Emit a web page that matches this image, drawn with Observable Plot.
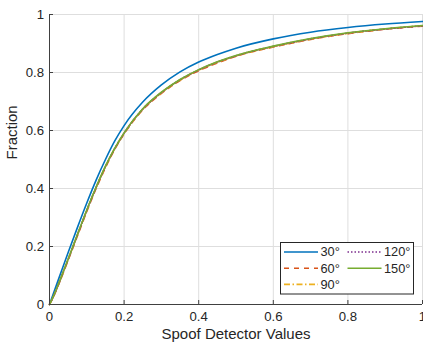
<!DOCTYPE html>
<html>
<head>
<meta charset="utf-8">
<script src="https://cdn.jsdelivr.net/npm/d3@7"></script>
<script src="https://cdn.jsdelivr.net/npm/@observablehq/plot@0.6"></script>
<style>
  html, body { margin: 0; padding: 0; background: #fff; }
  #wrap { position: relative; width: 423px; height: 346px; font-family: "Liberation Sans", Arial, Helvetica, sans-serif; }
  #legend { position: absolute; left: 280px; top: 242px; }
</style>
</head>
<body>
<div id="wrap"></div>
<script>
// ---- data ----
const xValues = [0, 0.01, 0.02, 0.035, 0.05, 0.075, 0.1, 0.125, 0.15, 0.175, 0.2, 0.25, 0.3, 0.35, 0.4, 0.45, 0.5, 0.6, 0.7, 0.8, 0.9, 1.0];
const deg30  = [0, 0.036, 0.072, 0.126, 0.179, 0.266, 0.350, 0.429, 0.500, 0.564, 0.617, 0.698, 0.757, 0.802, 0.836, 0.862, 0.884, 0.916, 0.939, 0.955, 0.967, 0.976];
const deg60  = [0, 0.025, 0.055, 0.103, 0.153, 0.237, 0.321, 0.400, 0.472, 0.535, 0.588, 0.671, 0.728, 0.772, 0.806, 0.833, 0.856, 0.888, 0.914, 0.934, 0.949, 0.960];
const deg90  = [0, 0.026, 0.056, 0.105, 0.155, 0.240, 0.324, 0.403, 0.475, 0.537, 0.590, 0.673, 0.730, 0.774, 0.808, 0.835, 0.857, 0.889, 0.915, 0.935, 0.950, 0.961];
const deg120 = [0, 0.026, 0.057, 0.106, 0.156, 0.241, 0.325, 0.404, 0.476, 0.538, 0.591, 0.674, 0.731, 0.775, 0.809, 0.836, 0.858, 0.890, 0.916, 0.936, 0.950, 0.961];
const deg150 = [0, 0.027, 0.058, 0.107, 0.157, 0.242, 0.326, 0.405, 0.477, 0.539, 0.592, 0.675, 0.732, 0.776, 0.810, 0.837, 0.859, 0.891, 0.917, 0.937, 0.951, 0.962];
const seriesNames = ["30°", "60°", "90°", "120°", "150°"];
const seriesValues = [deg30, deg60, deg90, deg120, deg150];
const seriesColors = ["#0072BD", "#D95319", "#EDB120", "#7E2F8E", "#77AC30"];
const seriesDash = [null, "5,5", "6,2.5,1.5,2.5", "1.5,2", null];
const xTicks = [0, 0.2, 0.4, 0.6, 0.8, 1];
const yTicks = [0, 0.2, 0.4, 0.6, 0.8, 1];
const xLabel = "Spoof Detector Values";
const yLabel = "Fraction";

// ---- layout ----
const W = 423, H = 346;
const mL = 49, mR = 1, mT = 14, mB = 42;
const plotW = W - mL - mR, plotH = H - mT - mB;
const axisColor = "#404040";
const textColor = "#262626";

const lineMarks = seriesNames.map((name, i) => {
  const rows = xValues.map((x, j) => ({x, y: seriesValues[i][j]}));
  return Plot.line(rows, {x: "x", y: "y", stroke: seriesColors[i], strokeWidth: 1.6,
    strokeDasharray: seriesDash[i] || undefined, curve: "monotone-x"});
});

const chart = Plot.plot({
  width: W, height: H,
  marginLeft: mL, marginRight: mR, marginTop: mT, marginBottom: mB,
  style: {fontFamily: '"Liberation Sans", Arial, Helvetica, sans-serif', fontSize: "13.2px", color: textColor, background: "#fff", overflow: "visible"},
  x: {domain: [0, 1]},
  y: {domain: [0, 1]},
  marks: [
    Plot.gridX(xTicks, {stroke: "#dedede", strokeOpacity: 1}),
    Plot.gridY(yTicks, {stroke: "#dedede", strokeOpacity: 1}),
    ...lineMarks,
    Plot.ruleX([0], {stroke: axisColor}),
    Plot.ruleY([0], {stroke: axisColor}),
    Plot.tickX(xTicks, {stroke: axisColor, insetTop: plotH - 4}),
    Plot.tickY(yTicks, {stroke: axisColor, insetRight: plotW - 4}),
    Plot.axisX(xTicks, {tickSize: 0, tickPadding: 7, tickFormat: d => String(d), label: null, fill: textColor}),
    Plot.axisY(yTicks, {tickSize: 0, tickPadding: 5.5, tickFormat: d => String(d), label: null, fill: textColor}),
    Plot.text([xLabel], {frameAnchor: "bottom", dy: 34.5, fontSize: 15, fill: textColor}),
    Plot.text([yLabel], {frameAnchor: "left", dx: -37, rotate: -90, fontSize: 15, fill: textColor})
  ]
});
document.getElementById("wrap").appendChild(chart);

// ---- legend ----
const ns = "http://www.w3.org/2000/svg";
const leg = document.createElementNS(ns, "svg");
leg.setAttribute("id", "legend");
leg.setAttribute("width", 135);
leg.setAttribute("height", 53);
const box = document.createElementNS(ns, "rect");
box.setAttribute("x", 0.5); box.setAttribute("y", 0.5);
box.setAttribute("width", 133); box.setAttribute("height", 51.5);
box.setAttribute("fill", "#fff"); box.setAttribute("stroke", "#262626"); box.setAttribute("stroke-width", 1);
leg.appendChild(box);
const pos = [[0, 0], [0, 1], [0, 2], [1, 0], [1, 1]];
seriesNames.forEach((name, i) => {
  const [col, row] = pos[i];
  const x0 = 4 + col * 63.5, y0 = 10 + row * 16.2;
  const ln = document.createElementNS(ns, "line");
  ln.setAttribute("x1", x0); ln.setAttribute("x2", x0 + 34);
  ln.setAttribute("y1", y0); ln.setAttribute("y2", y0);
  ln.setAttribute("stroke", seriesColors[i]); ln.setAttribute("stroke-width", 1.6);
  if (seriesDash[i]) ln.setAttribute("stroke-dasharray", seriesDash[i]);
  leg.appendChild(ln);
  const t = document.createElementNS(ns, "text");
  t.setAttribute("x", x0 + 36.5); t.setAttribute("y", y0);
  t.setAttribute("dy", "0.35em");
  t.setAttribute("font-size", "12.8px");
  t.setAttribute("fill", textColor);
  t.setAttribute("font-family", '"Liberation Sans", Arial, Helvetica, sans-serif');
  t.textContent = name;
  leg.appendChild(t);
});
document.getElementById("wrap").appendChild(leg);
</script>
</body>
</html>
